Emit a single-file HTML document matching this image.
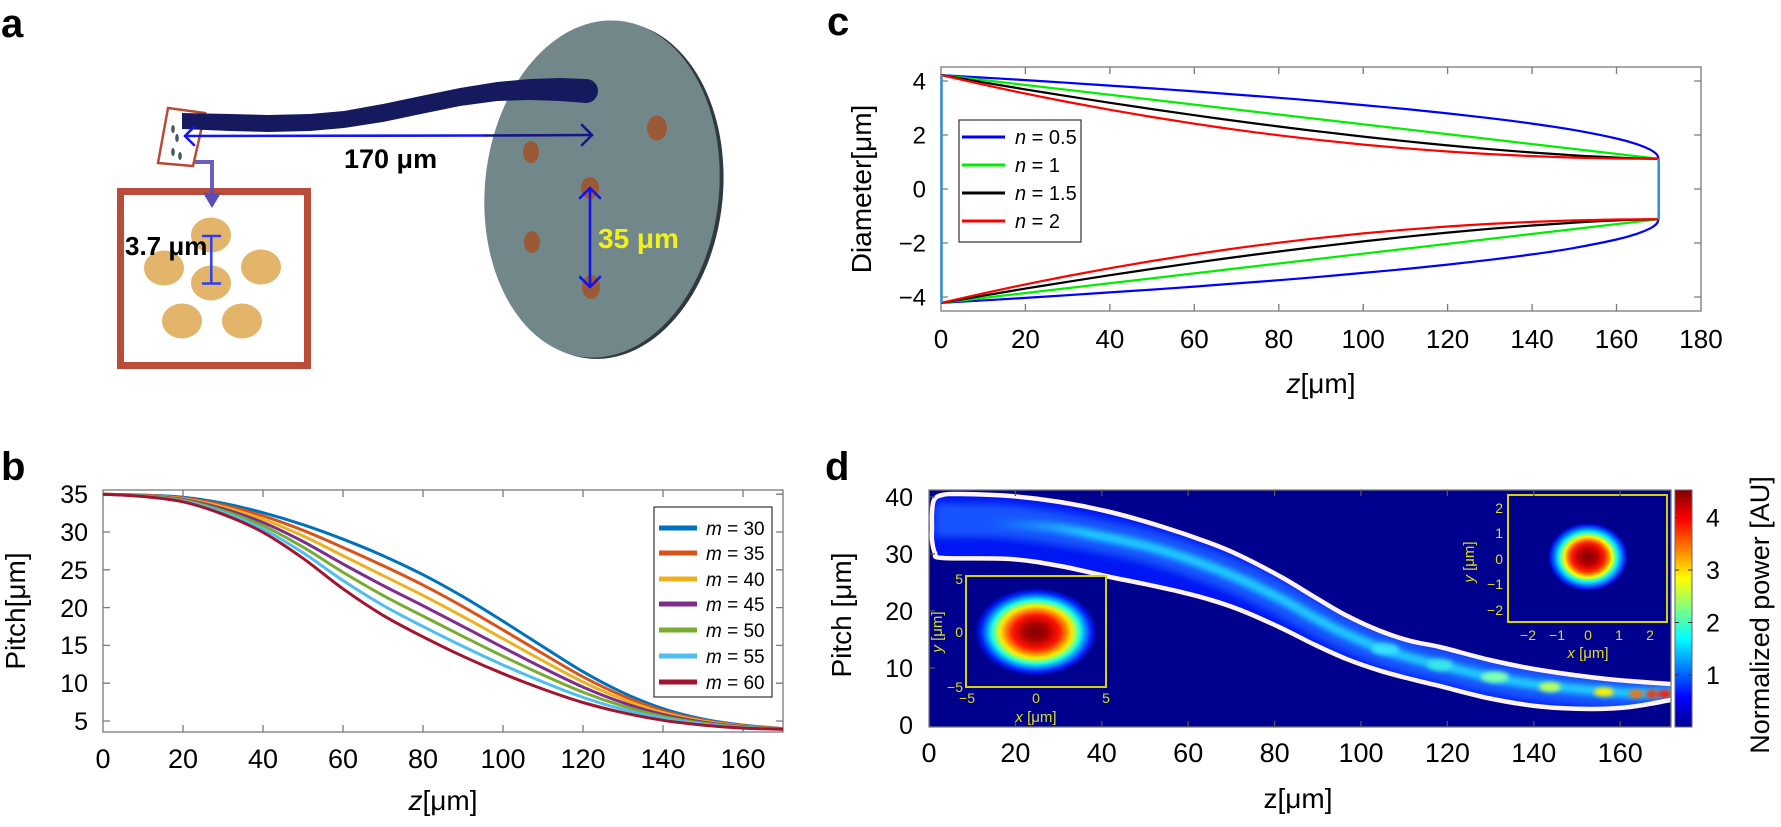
<!DOCTYPE html>
<html><head><meta charset="utf-8">
<style>
html,body{margin:0;padding:0;background:#fff;}
svg{display:block;}
text{font-family:"Liberation Sans",Arial,sans-serif;}
</style></head><body>
<svg width="1781" height="827" viewBox="0 0 1781 827" xmlns="http://www.w3.org/2000/svg">
<defs>
 <linearGradient id="jet" x1="0" y1="1" x2="0" y2="0">
  <stop offset="0" stop-color="#00008f"/>
  <stop offset="0.125" stop-color="#0000ff"/>
  <stop offset="0.375" stop-color="#00ffff"/>
  <stop offset="0.625" stop-color="#ffff00"/>
  <stop offset="0.875" stop-color="#ff0000"/>
  <stop offset="1" stop-color="#800000"/>
 </linearGradient>
 <linearGradient id="beamgrad" gradientUnits="userSpaceOnUse" x1="990" y1="0" x2="1090" y2="0">
  <stop offset="0" stop-color="#20d0ff" stop-opacity="0"/>
  <stop offset="1" stop-color="#20d0ff" stop-opacity="0.95"/>
 </linearGradient>
 <radialGradient id="spot1" cx="0.5" cy="0.5" r="0.5">
  <stop offset="0" stop-color="#7f0000"/>
  <stop offset="0.18" stop-color="#a80000"/>
  <stop offset="0.38" stop-color="#ff1400"/>
  <stop offset="0.5" stop-color="#ff8a00"/>
  <stop offset="0.58" stop-color="#ffe600"/>
  <stop offset="0.65" stop-color="#9cff60"/>
  <stop offset="0.72" stop-color="#20ffe0"/>
  <stop offset="0.8" stop-color="#00a0ff"/>
  <stop offset="0.9" stop-color="#0020ff"/>
  <stop offset="1" stop-color="#00008f"/>
 </radialGradient>
 <radialGradient id="spot2" cx="0.5" cy="0.5" r="0.5">
  <stop offset="0" stop-color="#800000"/>
  <stop offset="0.25" stop-color="#c00000"/>
  <stop offset="0.42" stop-color="#ff2000"/>
  <stop offset="0.52" stop-color="#ff9000"/>
  <stop offset="0.6" stop-color="#ffff00"/>
  <stop offset="0.68" stop-color="#60ffa0"/>
  <stop offset="0.76" stop-color="#00e0ff"/>
  <stop offset="0.86" stop-color="#0060ff"/>
  <stop offset="0.95" stop-color="#0010e0"/>
  <stop offset="1" stop-color="#00008f"/>
 </radialGradient>
 <filter id="bl4" x="-10%" y="-60%" width="120%" height="220%"><feGaussianBlur stdDeviation="4"/></filter>
 <filter id="bl3" x="-10%" y="-60%" width="120%" height="220%"><feGaussianBlur stdDeviation="3"/></filter>
 <filter id="bls" x="-50%" y="-50%" width="200%" height="200%"><feGaussianBlur stdDeviation="2"/></filter>
 <clipPath id="dclip"><rect x="929" y="490" width="742" height="237"/></clipPath>
 <clipPath id="tubeclip"><polygon points="942,495 960,494 1010,496 1060,502 1110,512 1160,526 1210,543 1240,555.6 1281,576.9 1315,597.3 1346,615.3 1380,630.9 1411,641.1 1440,647 1490,660 1540,670 1607,679 1671,684 1690,685 1690,697 1671,700 1630,707 1590,709 1540,706.5 1490,698.5 1440,686.1 1411,679.1 1380,670.7 1346,658.8 1314,644.4 1281,627.9 1240,609.9 1210,599.7 1177,591.1 1140,583 1110,577 1060,566 1010,559 943,558 935,553 932,540 932,527 932,513 934,500"/></clipPath>
 <clipPath id="bclip"><rect x="103" y="490" width="680" height="242"/></clipPath>
</defs>

<!-- ================= PANEL A ================= -->
<text x="1" y="37" font-size="40" font-weight="bold">a</text>

<g transform="rotate(6 602 189)">
 <ellipse cx="606" cy="190" rx="117" ry="169" fill="#2f3940"/>
 <ellipse cx="602" cy="189" rx="117" ry="169" fill="#72878a"/>
</g>
<g fill="#9b5a36">
 <ellipse cx="657" cy="128" rx="10" ry="12.5"/>
 <ellipse cx="531" cy="152" rx="8" ry="11"/>
 <ellipse cx="590" cy="188" rx="9" ry="11"/>
 <ellipse cx="532" cy="242" rx="8" ry="11"/>
 <ellipse cx="591" cy="287" rx="9" ry="12"/>
</g>
<g stroke="#1212ee" stroke-width="2.6" fill="none" stroke-linecap="round" stroke-linejoin="round">
 <line x1="590" y1="189" x2="590" y2="286"/>
 <polyline points="580,198 590,188 600,198"/>
 <polyline points="580,277 590,287 600,277"/>
</g>
<text x="598" y="248" font-size="28" font-weight="bold" fill="#f2f21a">35 μm</text>

<polygon points="168,108 205,113 193,166 158,163" fill="#fff" stroke="#b84b38" stroke-width="2.5"/>
<g fill="#4a5560">
 <ellipse cx="173" cy="129" rx="1.8" ry="4"/>
 <ellipse cx="177" cy="138" rx="1.8" ry="4"/>
 <ellipse cx="173" cy="152" rx="1.8" ry="4"/>
 <ellipse cx="180" cy="156" rx="1.8" ry="4"/>
</g>

<path d="M182,113 L230,114 L268,115 L310,114 L344,111 L383,104 L421,96 L460,88 L497,82 L530,79 L560,78 L586,79 A12,12 0 0 1 586,103 L560,101 L530,100 L497,101 L460,106 L421,114 L383,122 L344,128 L310,131 L268,132 L230,131 L182,129 Z" fill="#151a5e"/>

<g stroke="#1414f5" stroke-width="2.6" fill="none" stroke-linecap="round" stroke-linejoin="round">
 <line x1="185" y1="136" x2="486" y2="135.5"/>
 <polyline points="194,127 185,136 194,145"/>
</g>
<g stroke="#16168a" stroke-width="2.6" fill="none" stroke-linecap="round" stroke-linejoin="round">
 <line x1="486" y1="135.5" x2="592" y2="135"/>
 <polyline points="582,125 592,135 582,145"/>
</g>
<text x="344" y="168" font-size="27" font-weight="bold">170 μm</text>

<rect x="120.5" y="191.5" width="187" height="174" fill="#fff" stroke="#b94d3a" stroke-width="7"/>
<path d="M195,162 L212,162 L212,196" stroke="#5b4db5" stroke-width="4" fill="none" opacity="0.9"/>
<polygon points="203,193 221,193 212,208" fill="#5b4db5"/>
<g fill="#e2b56a">
 <ellipse cx="211" cy="235" rx="20" ry="17.5"/>
 <ellipse cx="164" cy="268" rx="20" ry="17.5"/>
 <ellipse cx="261" cy="267" rx="20" ry="17.5"/>
 <ellipse cx="211" cy="283" rx="20" ry="17.5"/>
 <ellipse cx="182" cy="321" rx="20" ry="17.5"/>
 <ellipse cx="242" cy="321" rx="20" ry="17.5"/>
</g>
<g stroke="#2f3ff0" stroke-width="2.5">
 <line x1="211.3" y1="236" x2="211.3" y2="283.5"/>
 <line x1="202" y1="236" x2="221" y2="236"/>
 <line x1="202" y1="283.5" x2="221" y2="283.5"/>
</g>
<text x="125" y="255" font-size="26" font-weight="bold">3.7 μm</text>

<!-- ================= PANEL C ================= -->
<text x="827" y="35" font-size="40" font-weight="bold">c</text>
<rect x="941" y="67" width="760" height="244" fill="#fff" stroke="#7a7a7a" stroke-width="1.3"/>
<path stroke="#7a7a7a" stroke-width="1.3" fill="none" d="
M1025.4,67v7M1109.9,67v7M1194.3,67v7M1278.8,67v7M1363.2,67v7M1447.6,67v7M1532.1,67v7M1616.5,67v7
M1025.4,311v-7M1109.9,311v-7M1194.3,311v-7M1278.8,311v-7M1363.2,311v-7M1447.6,311v-7M1532.1,311v-7M1616.5,311v-7
M941,81h7M941,135h7M941,189h7M941,243h7M941,297h7
M1701,81h-7M1701,135h-7M1701,189h-7M1701,243h-7M1701,297h-7"/>
<g fill="none" stroke-width="2.2" stroke-linejoin="round">
 <polyline class="sm" stroke="#0000ff" points="941,75.1 983.2,77.6 1025.4,80.1 1067.7,82.8 1109.9,85.6 1152.1,88.4 1194.3,91.4 1236.5,94.6 1278.8,97.8 1321,101.3 1363.2,105.1 1405.4,109 1447.6,113.4 1489.9,118.2 1532.1,123.6 1574.3,130.1 1616.5,138.5 1637.6,144.4 1650.3,149.7 1656.6,154.2 1658.7,158.8"/>
 <polyline class="sm" stroke="#0000ff" points="941,302.9 983.2,300.4 1025.4,297.9 1067.7,295.2 1109.9,292.4 1152.1,289.6 1194.3,286.6 1236.5,283.4 1278.8,280.2 1321,276.7 1363.2,272.9 1405.4,269 1447.6,264.6 1489.9,259.8 1532.1,254.4 1574.3,247.9 1616.5,239.5 1637.6,233.6 1650.3,228.3 1656.6,223.8 1658.7,219.2"/>
 <polyline stroke="#00ee00" points="941,75.1 1658.7,158.8"/>
 <polyline stroke="#00ee00" points="941,302.9 1658.7,219.2"/>
 <polyline class="sm" stroke="#000000" points="941,75.1 983.2,82.3 1025.4,89.4 1067.7,96.2 1109.9,102.8 1152.1,109.1 1194.3,115.2 1236.5,121 1278.8,126.5 1321,131.7 1363.2,136.6 1405.4,141.2 1447.6,145.4 1489.9,149.2 1532.1,152.5 1574.3,155.4 1616.5,157.6 1658.7,158.8"/>
 <polyline class="sm" stroke="#000000" points="941,302.9 983.2,295.7 1025.4,288.6 1067.7,281.8 1109.9,275.2 1152.1,268.9 1194.3,262.8 1236.5,257 1278.8,251.5 1321,246.3 1363.2,241.4 1405.4,236.8 1447.6,232.6 1489.9,228.8 1532.1,225.5 1574.3,222.6 1616.5,220.4 1658.7,219.2"/>
 <polyline class="sm" stroke="#ff0000" points="941,75.1 983.2,84.6 1025.4,93.6 1067.7,102 1109.9,109.8 1152.1,117 1194.3,123.7 1236.5,129.8 1278.8,135.3 1321,140.2 1363.2,144.6 1405.4,148.3 1447.6,151.5 1489.9,154.1 1532.1,156.1 1574.3,157.6 1616.5,158.5 1658.7,158.8"/>
 <polyline class="sm" stroke="#ff0000" points="941,302.9 983.2,293.4 1025.4,284.4 1067.7,276 1109.9,268.2 1152.1,261 1194.3,254.3 1236.5,248.2 1278.8,242.7 1321,237.8 1363.2,233.4 1405.4,229.7 1447.6,226.5 1489.9,223.9 1532.1,221.9 1574.3,220.4 1616.5,219.5 1658.7,219.2"/>
 <line x1="941.5" y1="75" x2="941.5" y2="303" stroke="#2e8fd0" stroke-width="2.5"/>
 <line x1="1658.7" y1="158.8" x2="1658.7" y2="219.2" stroke="#2e8fd0" stroke-width="2.5"/>
</g>
<rect x="959" y="120" width="122" height="122" fill="#fff" stroke="#333" stroke-width="1.2"/>
<g stroke-width="3">
 <line x1="962" y1="137" x2="1005" y2="137" stroke="#0000ff"/>
 <line x1="962" y1="165" x2="1005" y2="165" stroke="#00ee00"/>
 <line x1="962" y1="193" x2="1005" y2="193" stroke="#000"/>
 <line x1="962" y1="221" x2="1005" y2="221" stroke="#ff0000"/>
</g>
<g font-size="20">
 <text x="1015" y="144"><tspan font-style="italic">n</tspan> = 0.5</text>
 <text x="1015" y="172"><tspan font-style="italic">n</tspan> = 1</text>
 <text x="1015" y="200"><tspan font-style="italic">n</tspan> = 1.5</text>
 <text x="1015" y="228"><tspan font-style="italic">n</tspan> = 2</text>
</g>
<g font-size="24" text-anchor="end">
 <text x="926" y="89.5">4</text>
 <text x="926" y="143.5">2</text>
 <text x="926" y="197.5">0</text>
 <text x="926" y="251.5">−2</text>
 <text x="926" y="305.5">−4</text>
</g>
<g font-size="26" text-anchor="middle">
 <text x="941" y="348">0</text><text x="1025.4" y="348">20</text><text x="1109.9" y="348">40</text>
 <text x="1194.3" y="348">60</text><text x="1278.8" y="348">80</text><text x="1363.2" y="348">100</text>
 <text x="1447.6" y="348">120</text><text x="1532.1" y="348">140</text><text x="1616.5" y="348">160</text>
 <text x="1701" y="348">180</text>
</g>
<text transform="translate(871,189) rotate(-90)" font-size="28" text-anchor="middle">Diameter[μm]</text>
<text x="1321" y="393" font-size="28" text-anchor="middle"><tspan font-style="italic">z</tspan>[μm]</text>

<!-- ================= PANEL B ================= -->
<text x="1" y="480" font-size="40" font-weight="bold">b</text>
<rect x="103" y="490" width="680" height="242" fill="#fff" stroke="#7a7a7a" stroke-width="1.3"/>
<path stroke="#7a7a7a" stroke-width="1.3" fill="none" d="
M183,490v7M263,490v7M343,490v7M423,490v7M503,490v7M583,490v7M663,490v7M743,490v7
M183,732v-7M263,732v-7M343,732v-7M423,732v-7M503,732v-7M583,732v-7M663,732v-7M743,732v-7
M103,494.2h7M103,532h7M103,569.8h7M103,607.6h7M103,645.4h7M103,683.2h7M103,721h7
M783,494.2h-7M783,532h-7M783,569.8h-7M783,607.6h-7M783,645.4h-7M783,683.2h-7M783,721h-7"/>
<g fill="none" stroke-width="3" stroke-linejoin="round" clip-path="url(#bclip)">
 <polyline class="sm" stroke="#0072BD" points="103,494.2 143,495.0 183,497.2 223,503.2 263,512.7 303,524.7 343,539.2 383,555.7 423,574.7 463,596.7 503,621.2 543,646.7 583,671.7 623,692.7 663,708.7 703,719.1 743,725.1 783,728.6"/>
 <polyline class="sm" stroke="#D95319" points="103,494.2 143,495.25 183,497.97 223,505.05 263,515.97 303,530.3 343,547.47 383,565.63 423,585.05 463,606.63 503,629.95 543,653.77 583,676.83 623,696.03 663,710.63 703,720.1 743,725.6 783,728.72"/>
 <polyline class="sm" stroke="#EDB120" points="103,494.2 143,495.5 183,498.73 223,506.9 263,519.23 303,535.9 343,555.73 383,575.57 423,595.4 463,616.57 503,638.7 543,660.83 583,681.97 623,699.37 663,712.57 703,721.1 743,726.1 783,728.83"/>
 <polyline class="sm" stroke="#7E2F8E" points="103,494.2 143,495.75 183,499.5 223,508.75 263,522.5 303,541.5 343,564.0 383,585.5 423,605.75 463,626.5 503,647.45 543,667.9 583,687.1 623,702.7 663,714.5 703,722.1 743,726.6 783,728.95"/>
 <polyline class="sm" stroke="#77AC30" points="103,494.2 143,496.0 183,500.27 223,510.6 263,525.77 303,547.1 343,572.27 383,595.43 423,616.1 463,636.43 503,656.2 543,674.97 583,692.23 623,706.03 663,716.43 703,723.1 743,727.1 783,729.07"/>
 <polyline class="sm" stroke="#4DBEEE" points="103,494.2 143,496.25 183,501.03 223,512.45 263,529.03 303,552.7 343,580.53 383,605.37 423,626.45 463,646.37 503,664.95 543,682.03 583,697.37 623,709.37 663,718.37 703,724.1 743,727.6 783,729.18"/>
 <polyline class="sm" stroke="#A2142F" points="103,494.2 143,496.5 183,501.8 223,514.3 263,532.3 303,558.3 343,588.8 383,615.3 423,636.8 463,656.3 503,673.7 543,689.1 583,702.5 623,712.7 663,720.3 703,725.1 743,728.1 783,729.3"/>
</g>
<rect x="654" y="507" width="118" height="190" fill="#fff" stroke="#333" stroke-width="1.2"/>
<g stroke-width="5">
 <line x1="659" y1="528" x2="697" y2="528" stroke="#0072BD"/>
 <line x1="659" y1="553" x2="697" y2="553" stroke="#D95319"/>
 <line x1="659" y1="579" x2="697" y2="579" stroke="#EDB120"/>
 <line x1="659" y1="604" x2="697" y2="604" stroke="#7E2F8E"/>
 <line x1="659" y1="630" x2="697" y2="630" stroke="#77AC30"/>
 <line x1="659" y1="656" x2="697" y2="656" stroke="#4DBEEE"/>
 <line x1="659" y1="682" x2="697" y2="682" stroke="#A2142F"/>
</g>
<g font-size="19">
 <text x="706" y="535"><tspan font-style="italic">m</tspan> = 30</text>
 <text x="706" y="560"><tspan font-style="italic">m</tspan> = 35</text>
 <text x="706" y="586"><tspan font-style="italic">m</tspan> = 40</text>
 <text x="706" y="611"><tspan font-style="italic">m</tspan> = 45</text>
 <text x="706" y="637"><tspan font-style="italic">m</tspan> = 50</text>
 <text x="706" y="663"><tspan font-style="italic">m</tspan> = 55</text>
 <text x="706" y="689"><tspan font-style="italic">m</tspan> = 60</text>
</g>
<g font-size="25" text-anchor="end">
 <text x="88" y="503">35</text>
 <text x="88" y="541">30</text>
 <text x="88" y="579">25</text>
 <text x="88" y="617">20</text>
 <text x="88" y="654">15</text>
 <text x="88" y="692">10</text>
 <text x="88" y="730">5</text>
</g>
<g font-size="27" text-anchor="middle">
 <text x="103" y="768">0</text><text x="183" y="768">20</text><text x="263" y="768">40</text>
 <text x="343" y="768">60</text><text x="423" y="768">80</text><text x="503" y="768">100</text>
 <text x="583" y="768">120</text><text x="663" y="768">140</text><text x="743" y="768">160</text>
</g>
<text transform="translate(25,611) rotate(-90)" font-size="28" text-anchor="middle">Pitch[μm]</text>
<text x="443" y="810" font-size="28" text-anchor="middle"><tspan font-style="italic">z</tspan>[μm]</text>

<!-- ================= PANEL D ================= -->
<text x="825" y="480" font-size="40" font-weight="bold">d</text>
<g clip-path="url(#dclip)">
 <rect x="929" y="490" width="742" height="237" fill="#00008f"/>
 <g clip-path="url(#tubeclip)">
  <rect x="925" y="485" width="760" height="240" fill="#0016f2"/>
  <polyline class="sm" fill="none" stroke="#1f60ff" stroke-width="34" stroke-linejoin="round" filter="url(#bl4)" opacity="0.85"
   points="935,520 1000,521 1050,527 1100,536 1150,547 1200,563 1240,579 1281,599 1315,618 1346,634 1380,648 1411,658 1440,665 1490,677 1540,685 1590,690 1630,693 1680,693"/>
  <polyline class="sm" fill="none" stroke="url(#beamgrad)" stroke-width="10" stroke-linejoin="round" filter="url(#bl3)"
   points="990,523 1050,527 1100,536 1150,547 1200,563 1240,579 1281,599 1315,618 1346,634 1380,648 1411,658 1440,665 1490,677 1540,685 1590,690 1630,693 1680,693"/>
  <g filter="url(#bls)">
   <ellipse cx="1385" cy="649" rx="14" ry="6" fill="#40e8ff" opacity="0.8"/>
   <ellipse cx="1440" cy="665" rx="13" ry="6" fill="#40f0e0" opacity="0.8"/>
   <ellipse cx="1495" cy="677" rx="14" ry="5.5" fill="#7fffb0"/>
   <ellipse cx="1550" cy="687" rx="11" ry="5" fill="#b8ff60"/>
   <ellipse cx="1604" cy="692" rx="10" ry="4.5" fill="#ffee00"/>
   <ellipse cx="1636" cy="694" rx="7" ry="4" fill="#ff7000"/>
   <ellipse cx="1652" cy="694" rx="6" ry="4" fill="#ff3000"/>
   <ellipse cx="1665" cy="694" rx="7" ry="4" fill="#ff1800"/>
  </g>
 </g>
 <polyline class="sm" fill="none" stroke="#fff3f3" stroke-width="4.5" stroke-linejoin="round" points="1690,697 1671,700 1630,707 1590,709 1540,706.5 1490,698.5 1440,686.1 1411,679.1 1380,670.7 1346,658.8 1314,644.4 1281,627.9 1240,609.9 1210,599.7 1177,591.1 1140,583 1110,577 1060,566 1010,559 943,558 935,553 932,540 932,527 932,513 934,500 942,495 960,494 1010,496 1060,502 1110,512 1160,526 1210,543 1240,555.6 1281,576.9 1315,597.3 1346,615.3 1380,630.9 1411,641.1 1440,647 1490,660 1540,670 1607,679 1671,684 1690,685"/>
 <rect x="966" y="576" width="140" height="111" fill="#00008f" stroke="#d4d400" stroke-width="2"/>
 <ellipse cx="1036" cy="632" rx="61" ry="44" fill="url(#spot1)"/>
 <rect x="1508" y="495" width="159" height="127" fill="#00008f" stroke="#d4d400" stroke-width="2"/>
 <ellipse cx="1588" cy="557" rx="40" ry="34" fill="url(#spot2)"/>
</g>
<rect x="929" y="490" width="742" height="237" fill="none" stroke="#7a7a7a" stroke-width="1.3"/>
<path stroke="#555" stroke-width="1.3" fill="none" d="
M1015.4,490v6M1101.8,490v6M1188.2,490v6M1274.6,490v6M1361,490v6M1447.4,490v6M1533.8,490v6M1620.2,490v6
M1015.4,727v-6M1101.8,727v-6M1188.2,727v-6M1274.6,727v-6M1361,727v-6M1447.4,727v-6M1533.8,727v-6M1620.2,727v-6
M929,668h6M929,611h6M929,554h6M929,497h6"/>
<g fill="#dede1a" font-size="14">
 <text x="963" y="584" text-anchor="end">5</text>
 <text x="963" y="637" text-anchor="end">0</text>
 <text x="963" y="692" text-anchor="end">−5</text>
 <text x="967" y="703" text-anchor="middle">−5</text>
 <text x="1036" y="703" text-anchor="middle">0</text>
 <text x="1106" y="703" text-anchor="middle">5</text>
 <text x="1036" y="722" text-anchor="middle" font-size="15"><tspan font-style="italic">x</tspan> [μm]</text>
 <text transform="translate(942,632) rotate(-90)" text-anchor="middle" font-size="15"><tspan font-style="italic">y</tspan> [μm]</text>
 <text x="1503" y="513" text-anchor="end">2</text>
 <text x="1503" y="538" text-anchor="end">1</text>
 <text x="1503" y="564" text-anchor="end">0</text>
 <text x="1503" y="589" text-anchor="end">−1</text>
 <text x="1503" y="615" text-anchor="end">−2</text>
 <text x="1528" y="640" text-anchor="middle">−2</text>
 <text x="1557" y="640" text-anchor="middle">−1</text>
 <text x="1588" y="640" text-anchor="middle">0</text>
 <text x="1619" y="640" text-anchor="middle">1</text>
 <text x="1650" y="640" text-anchor="middle">2</text>
 <text x="1588" y="658" text-anchor="middle" font-size="15"><tspan font-style="italic">x</tspan> [μm]</text>
 <text transform="translate(1474,562) rotate(-90)" text-anchor="middle" font-size="15"><tspan font-style="italic">y</tspan> [μm]</text>
</g>
<rect x="1675" y="490" width="17" height="237" fill="url(#jet)" stroke="#666" stroke-width="1"/>
<path stroke="#333" stroke-width="1" d="M1688,517.5h4M1688,570h4M1688,622.5h4M1688,675h4M1675,517.5h4M1675,570h4M1675,622.5h4M1675,675h4"/>
<g font-size="25">
 <text x="1706" y="526.5">4</text>
 <text x="1706" y="579">3</text>
 <text x="1706" y="631.5">2</text>
 <text x="1706" y="684">1</text>
</g>
<text transform="translate(1769,615) rotate(-90)" font-size="27" text-anchor="middle">Normalized power [AU]</text>
<g font-size="25" text-anchor="end">
 <text x="913" y="734">0</text>
 <text x="913" y="677">10</text>
 <text x="913" y="620">20</text>
 <text x="913" y="563">30</text>
 <text x="913" y="506">40</text>
</g>
<g font-size="27" text-anchor="middle">
 <text x="929" y="762">0</text><text x="1015.4" y="762">20</text><text x="1101.8" y="762">40</text>
 <text x="1188.2" y="762">60</text><text x="1274.6" y="762">80</text><text x="1361" y="762">100</text>
 <text x="1447.4" y="762">120</text><text x="1533.8" y="762">140</text><text x="1620.2" y="762">160</text>
</g>
<text transform="translate(851,615) rotate(-90)" font-size="28" text-anchor="middle">Pitch [μm]</text>
<text x="1298" y="808" font-size="28" text-anchor="middle">z[μm]</text>
</svg>
<script>
(function(){
 var NS='http://www.w3.org/2000/svg';
 var list=document.querySelectorAll('polyline.sm');
 for(var k=0;k<list.length;k++){
  var pl=list[k];
  var raw=pl.getAttribute('points').trim().split(/\s+/);
  var pts=[];
  for(var j=0;j<raw.length;j++){var a=raw[j].split(',');pts.push([parseFloat(a[0]),parseFloat(a[1])]);}
  if(pts.length<3) continue;
  var d='M'+pts[0][0]+','+pts[0][1];
  for(var i=0;i<pts.length-1;i++){
   var p0=pts[i-1]||pts[i],p1=pts[i],p2=pts[i+1],p3=pts[i+2]||pts[i+1];
   var c1x=p1[0]+(p2[0]-p0[0])/6,c1y=p1[1]+(p2[1]-p0[1])/6;
   var c2x=p2[0]-(p3[0]-p1[0])/6,c2y=p2[1]-(p3[1]-p1[1])/6;
   d+=' C'+c1x.toFixed(2)+','+c1y.toFixed(2)+' '+c2x.toFixed(2)+','+c2y.toFixed(2)+' '+p2[0]+','+p2[1];
  }
  var path=document.createElementNS(NS,'path');
  for(var m=0;m<pl.attributes.length;m++){
   var at=pl.attributes[m];
   if(at.name!=='points'&&at.name!=='class') path.setAttribute(at.name,at.value);
  }
  path.setAttribute('d',d);
  pl.parentNode.replaceChild(path,pl);
 }
})();
</script>
</body></html>
